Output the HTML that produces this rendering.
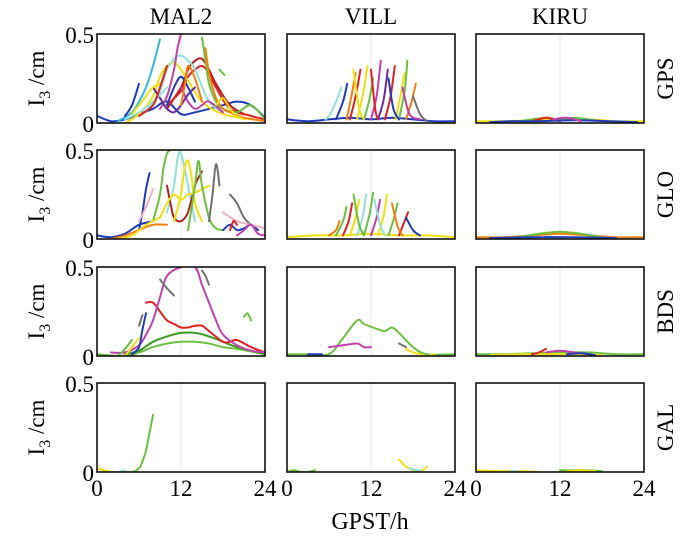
<!DOCTYPE html>
<html><head><meta charset="utf-8"><style>
body{margin:0;background:#fff}
svg{display:block;font-family:"Liberation Serif",serif}
</style></head><body>
<svg id="chart" width="700" height="538"></svg>
<script>
const stations=["MAL2","VILL","KIRU"];
const systems=["GPS","GLO","BDS","GAL"];
const xTicks=[0,12,24];
const yTicks=[0,0.5];
const C={b:"#1f3cb8",r:"#e02020",y:"#f0e010",g:"#6cc040",m:"#c040b0",c:"#30b8e0",o:"#f07f10",p:"#6a2aa0",k:"#707070",lc:"#90e0d8",pk:"#f0b0c8",dr:"#b02020",dg:"#3a9a20"};
// each curve: [color, hours[], values[]]
const mal2Gps=[
[C.b,[0,2,4,6,8,10,12,14,18,20,22,24],[0.04,0.01,0.02,0.05,0.08,0.12,0.05,0.06,0.1,0.12,0.1,0.03]],
[C.dr,[10,12,13,14,15,16,17,19,21],[0.08,0.2,0.3,0.35,0.36,0.3,0.22,0.1,0.05]],
[C.r,[10,12,13,14,15,16,17,19,22,24],[0.1,0.18,0.26,0.3,0.32,0.28,0.2,0.08,0.04,0.02]],
[C.y,[4,6,8,9,10,11,12,13,15,18,22],[0.0,0.05,0.15,0.26,0.32,0.34,0.3,0.24,0.12,0.05,0.02]],
[C.c,[3,5,6,7,8,9],[0.01,0.06,0.12,0.2,0.32,0.47]],
[C.lc,[7,9,10,11,12,13,14,16,18],[0.06,0.18,0.3,0.36,0.38,0.35,0.3,0.12,0.06]],
[C.m,[9,10,11,11.5,12],[0.08,0.15,0.3,0.42,0.5]],
[C.m,[12,13,14,15,16,18],[0.2,0.12,0.08,0.1,0.12,0.06]],
[C.g,[15,15.5,16,17,18,20,22,24],[0.48,0.35,0.22,0.12,0.08,0.06,0.1,0.02]],
[C.o,[15.5,16,17,18,19,21,24],[0.42,0.28,0.14,0.08,0.06,0.03,0.01]],
[C.p,[8,9,10,11,12,13,14],[0.2,0.14,0.08,0.06,0.1,0.16,0.2]],
[C.g,[17.5,18.2],[0.3,0.27]],
[C.b,[4,5,6],[0.04,0.1,0.22]],
[C.b,[10,11,12,13,14],[0.1,0.2,0.26,0.2,0.12]],
[C.o,[12,12.5,13,14,15],[0.1,0.2,0.32,0.25,0.12]],
[C.y,[5,6,7,8,9],[0.05,0.1,0.15,0.2,0.22]],
[C.lc,[4,6,8,10],[0.02,0.06,0.12,0.2]],
[C.r,[6,8,9,10],[0.04,0.1,0.2,0.32]],
[C.y,[17,18,19,20,21],[0.1,0.14,0.08,0.04,0.02]]
];
const villGps=[
[C.b,[0,3,6,9,12,15,18,21,24],[0.02,0.01,0.02,0.03,0.02,0.03,0.02,0.01,0.01]],
[C.lc,[5.5,6.2,7,7.8],[0.02,0.05,0.12,0.2]],
[C.b,[7,8,8.6],[0.02,0.12,0.22]],
[C.o,[8.5,9.2,9.8],[0.02,0.15,0.28]],
[C.r,[9,9.8,10.5],[0.02,0.15,0.3]],
[C.y,[10,10.8,11.5],[0.02,0.15,0.32]],
[C.g,[11,11.7,12.3],[0.02,0.12,0.25]],
[C.m,[12,12.8,13.4],[0.02,0.15,0.35]],
[C.p,[13,13.8,14.4],[0.02,0.13,0.3]],
[C.r,[14,14.8,15.4],[0.02,0.15,0.32]],
[C.y,[15.5,16.2,16.8],[0.02,0.15,0.28]],
[C.g,[16,16.8,17.2],[0.02,0.18,0.35]],
[C.o,[17,17.8,18.4],[0.02,0.12,0.22]],
[C.r,[12,12.6,13],[0.3,0.08,0.02]],
[C.y,[9.5,10.3,11],[0.3,0.08,0.02]],
[C.b,[14.5,15.2,16],[0.25,0.08,0.02]],
[C.m,[16.5,17.5,19],[0.2,0.05,0.02]],
[C.k,[18,19,20],[0.15,0.05,0.01]]
];
const kiruGps=[
[C.y,[0,4,8,12,16,20,24],[0.01,0.01,0.015,0.02,0.02,0.01,0.01]],
[C.g,[6,8,10,12,14,16,18],[0.01,0.02,0.03,0.02,0.03,0.02,0.01]],
[C.r,[8,10,11,12],[0.01,0.03,0.02,0.01]],
[C.b,[2,5,9,14,19,23],[0.005,0.01,0.01,0.015,0.01,0.005]],
[C.m,[11,13,15],[0.02,0.03,0.01]]
];
const mal2Glo=[
[C.b,[0,2,4,6,8],[0.02,0.01,0.03,0.08,0.1]],
[C.b,[6,6.5,7,7.5],[0.05,0.15,0.28,0.37]],
[C.g,[8,9,9.5,10,10.5],[0.1,0.25,0.4,0.48,0.5]],
[C.lc,[10,11,11.5,12,13,14],[0.15,0.3,0.45,0.48,0.3,0.1]],
[C.dr,[10,10.5,11,12,13,14,15],[0.3,0.2,0.12,0.1,0.15,0.3,0.38]],
[C.y,[11,12,12.5,13,13.5,14,15],[0.1,0.25,0.4,0.44,0.35,0.2,0.1]],
[C.y,[9,10,11,12,13,14,15,16],[0.12,0.2,0.25,0.22,0.25,0.26,0.28,0.3]],
[C.g,[13,14,14.5,15,16,17,18],[0.05,0.3,0.44,0.3,0.12,0.06,0.05]],
[C.k,[16,16.5,17,17.5],[0.1,0.25,0.42,0.3]],
[C.k,[19,20,21,22],[0.25,0.2,0.12,0.08]],
[C.b,[18,19,20,21,22,23],[0.05,0.08,0.05,0.06,0.08,0.05]],
[C.pk,[18,20,22,24],[0.15,0.1,0.08,0.06]],
[C.o,[2,4,6,8,10],[0.0,0.02,0.05,0.08,0.08]],
[C.m,[20,21,22,23,24],[0.02,0.05,0.08,0.03,0.02]],
[C.y,[3,5,7,9],[0.0,0.02,0.08,0.12]],
[C.r,[19,19.5,20],[0.05,0.1,0.08]],
[C.pk,[6,7,8],[0.1,0.18,0.28]]
];
const villGlo=[
[C.y,[0,4,8,12,16,20,24],[0.01,0.02,0.02,0.03,0.02,0.02,0.01]],
[C.o,[6,7,7.5],[0.02,0.05,0.1]],
[C.g,[7,8,8.5],[0.02,0.1,0.18]],
[C.r,[8,8.8,9.3],[0.02,0.1,0.2]],
[C.y,[9,9.8,10.3],[0.02,0.12,0.22]],
[C.lc,[10,10.8,11.3],[0.02,0.12,0.25]],
[C.g,[11,11.8,12.3],[0.02,0.14,0.26]],
[C.m,[12,12.8,13.3],[0.02,0.12,0.22]],
[C.y,[13,13.8,14.3],[0.02,0.13,0.25]],
[C.g,[14.5,15.3,15.8],[0.02,0.12,0.2]],
[C.r,[16,16.8,17.3],[0.02,0.1,0.15]],
[C.g,[9.5,10.3,11],[0.25,0.08,0.02]],
[C.lc,[12.5,13.3,14],[0.22,0.08,0.02]],
[C.o,[15,15.8,16.5],[0.2,0.07,0.02]],
[C.b,[17,18,19],[0.12,0.05,0.02]]
];
const kiruGlo=[
[C.o,[0,4,8,12,16,20,24],[0.01,0.01,0.02,0.03,0.02,0.01,0.01]],
[C.g,[6,9,12,15,18],[0.01,0.03,0.04,0.03,0.01]],
[C.b,[2,8,14,20],[0.005,0.01,0.01,0.005]]
];
const mal2Bds=[
[C.g,[0,4,6,8,10,12,14,16,18,20,24],[0.01,0.0,0.02,0.05,0.07,0.08,0.08,0.07,0.05,0.04,0.01]],
[C.dg,[4,6,8,10,12,14,16,18,20,24],[0.01,0.03,0.08,0.11,0.13,0.13,0.11,0.08,0.05,0.01]],
[C.r,[7,8,9,10,11,12,13,14,15,16,18,19,20,22,24],[0.3,0.3,0.25,0.2,0.18,0.16,0.16,0.17,0.17,0.14,0.08,0.08,0.09,0.05,0.02]],
[C.m,[2,4,6,7,8,9,10,12,14,15,16,17,18,20,22,24],[0.02,0.02,0.06,0.12,0.2,0.33,0.45,0.5,0.5,0.4,0.3,0.2,0.12,0.06,0.03,0.02]],
[C.b,[5,6,6.5,7],[0.01,0.05,0.15,0.24]],
[C.k,[9,10,11],[0.43,0.38,0.34]],
[C.k,[15,15.5,16],[0.48,0.45,0.4]],
[C.g,[21,21.5,22],[0.22,0.24,0.2]],
[C.y,[4,5,6],[0.0,0.05,0.1]],
[C.g,[3,4,5],[0.0,0.04,0.09]],
[C.k,[6,6.5],[0.17,0.23]]
];
const villBds=[
[C.g,[0,3,6,8,10,11,13,14,15,16,18,20,24],[0.01,0.01,0.01,0.1,0.2,0.18,0.15,0.14,0.16,0.13,0.05,0.01,0.01]],
[C.m,[6,8,10,11,12],[0.05,0.06,0.07,0.05,0.05]],
[C.k,[16,17],[0.07,0.05]],
[C.y,[17,18,19,20,21],[0.04,0.02,0.01,0.0,0.01]],
[C.b,[3,4,5],[0.01,0.01,0.01]]
];
const kiruBds=[
[C.g,[0,4,8,12,16,20,24],[0.01,0.01,0.015,0.02,0.02,0.01,0.01]],
[C.y,[2,6,10,14,18],[0.005,0.01,0.01,0.01,0.005]],
[C.r,[8,9,10],[0.01,0.02,0.04]],
[C.m,[10,12,14,16],[0.02,0.03,0.02,0.01]],
[C.b,[13,15,17],[0.01,0.015,0.005]]
];
const mal2Gal=[
[C.g,[0,2,4,5,6,6.5,7,7.5,8],[0.02,0.0,0.0,0.0,0.02,0.06,0.12,0.22,0.32]],
[C.y,[0,1,2],[0.02,0.01,0.0]],
[C.lc,[3,4],[0.0,0.01]]
];
const villGal=[
[C.g,[0,1,2,3,4],[0.0,0.01,0.0,0.0,0.01]],
[C.y,[16,17,18,19,20],[0.07,0.03,0.01,0.0,0.03]],
[C.lc,[17.5,18.5,19],[0.02,0.01,0.01]]
];
const kiruGal=[
[C.y,[0,3,6,9],[0.01,0.005,0.005,0.0]],
[C.lc,[5,6],[0.005,0.005]],
[C.g,[12,14,16,18],[0.01,0.01,0.01,0.005]],
[C.y,[13,15,17],[0.005,0.01,0.005]]
];
const panelData=[[mal2Gps,villGps,kiruGps],[mal2Glo,villGlo,kiruGlo],[mal2Bds,villBds,kiruBds],[mal2Gal,villGal,kiruGal]];

const NS="http://www.w3.org/2000/svg";
const svg=document.getElementById("chart");
const colX=[97,287,476], rowY=[34,150,267,383], W=168, H=89;
function mk(t,a,p){const e=document.createElementNS(NS,t);for(const k in a)e.setAttribute(k,a[k]);(p||svg).appendChild(e);return e;}
function txt(s,a){const e=mk("text",a);e.textContent=s;return e;}

stations.forEach((s,i)=>{
  const t=txt(s,{x:colX[i]+W/2,y:24,"font-size":23,"text-anchor":"middle"});
  
  
});
systems.forEach((s,j)=>{
  const cy=rowY[j]+H/2, cx=665;
  const t=txt(s,{x:cx,y:cy,"font-size":23,"text-anchor":"middle",transform:`rotate(-90 ${cx} ${cy})`,dy:8});
  
  
  const yx=36, yy=cy;
  const yt=mk("text",{x:yx,y:yy,"font-size":23,"text-anchor":"middle",transform:`rotate(-90 ${yx} ${yy})`,dy:8});
  
  
  yt.innerHTML='I<tspan font-size="16" dy="6">3</tspan><tspan dy="-6"> /cm</tspan>';
});

function smooth(pts){
  if(pts.length<3) return pts.map((p,n)=>(n?"L":"M")+p[0].toFixed(1)+","+p[1].toFixed(1)).join("");
  let d="M"+pts[0][0].toFixed(1)+","+pts[0][1].toFixed(1);
  for(let n=0;n<pts.length-1;n++){
    const p0=pts[Math.max(0,n-1)],p1=pts[n],p2=pts[n+1],p3=pts[Math.min(pts.length-1,n+2)];
    const c1=[p1[0]+(p2[0]-p0[0])/6,p1[1]+(p2[1]-p0[1])/6],c2=[p2[0]-(p3[0]-p1[0])/6,p2[1]-(p3[1]-p1[1])/6];
    d+="C"+c1.map(v=>v.toFixed(1))+" "+c2.map(v=>v.toFixed(1))+" "+p2.map(v=>v.toFixed(1));
  }
  return d;
}

panelData.forEach((row,j)=>row.forEach((curves,i)=>{
  const x0=colX[i], y0=rowY[j];
  const xs=h=>x0+h/24*W, ys=v=>y0+H-v/0.5*H;
  const g=mk("g",{});
  
  
  const cp=mk("clipPath",{id:"cp"+i+j},g);
  mk("rect",{x:x0,y:y0,width:W,height:H},cp);
  const grid=mk("line",{x1:xs(12),x2:xs(12),y1:y0,y2:y0+H,stroke:"#e4e4e4","stroke-width":1},g);
  
  
  const lg=mk("g",{"clip-path":`url(#cp${i}${j})`},g);
  curves.forEach((c,k)=>{
    const d=smooth(c[1].map((h,n)=>[xs(h),ys(c[2][n])]));
    const p=mk("path",{d:d,fill:"none",stroke:c[0],"stroke-width":2,"stroke-linejoin":"round","stroke-linecap":"round"},lg);
    
    
  });
  const fr=mk("rect",{x:x0,y:y0,width:W,height:H,fill:"none",stroke:"#111","stroke-width":1.6},g);
  
  
  if(i===0){
    yTicks.forEach(v=>{
      const t=txt(String(v),{x:x0-3,y:ys(v)+9,"font-size":23,"text-anchor":"end"});
      
      
    });
  }
  if(j===3){
    xTicks.forEach(h=>{
      const t=txt(String(h),{x:xs(h),y:y0+H+24,"font-size":23,"text-anchor":"middle"});
      
      
    });
  }
}));
const xt=txt("GPST/h",{x:370,y:529,"font-size":24,"text-anchor":"middle"});


</script>
</body></html>
